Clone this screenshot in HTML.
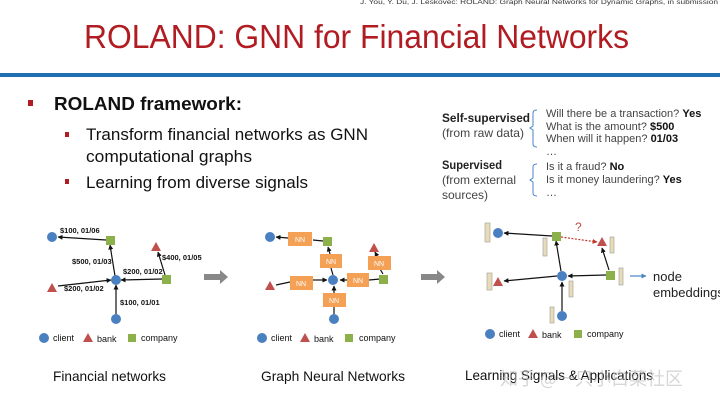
<!DOCTYPE html>
<html><head><meta charset="utf-8"><style>
html,body{margin:0;padding:0;background:#fff;}
svg{display:block;font-family:"Liberation Sans",Arial,sans-serif;}
</style></head><body>
<svg width="720" height="401" viewBox="0 0 720 401" xmlns="http://www.w3.org/2000/svg">
<defs>
<marker id="ah" markerWidth="5" markerHeight="5" refX="4.5" refY="2.5" orient="auto" markerUnits="userSpaceOnUse"><path d="M0,0 L5,2.5 L0,5z" fill="#111"/></marker>
<marker id="ar" markerWidth="5" markerHeight="5" refX="4.5" refY="2.5" orient="auto" markerUnits="userSpaceOnUse"><path d="M0,0 L5,2.5 L0,5z" fill="#c0392b"/></marker>
<marker id="ab" markerWidth="5" markerHeight="5" refX="4.5" refY="2.5" orient="auto" markerUnits="userSpaceOnUse"><path d="M0,0 L5,2.5 L0,5z" fill="#4a86c5"/></marker>
</defs>
<text x="360" y="4" font-size="6" fill="#333" textLength="358" lengthAdjust="spacingAndGlyphs">J. You, Y. Du, J. Leskovec: ROLAND: Graph Neural Networks for Dynamic Graphs, in submission</text>
<text x="84" y="48" font-size="33" fill="#b01c22" textLength="545" lengthAdjust="spacingAndGlyphs">ROLAND: GNN for Financial Networks</text>
<rect x="0" y="73" width="720" height="4" fill="#1f6fb2"/>

<rect x="28" y="100" width="5" height="6" fill="#b01c22"/>
<text x="54" y="110" font-size="18" font-weight="bold" fill="#111" textLength="188" lengthAdjust="spacingAndGlyphs">ROLAND framework:</text>
<rect x="65" y="132" width="4" height="5" fill="#b01c22"/>
<text x="86" y="140" font-size="17" fill="#111" textLength="282" lengthAdjust="spacingAndGlyphs">Transform financial networks as GNN</text>
<text x="86" y="162" font-size="17" fill="#111" textLength="166" lengthAdjust="spacingAndGlyphs">computational graphs</text>
<rect x="65" y="179" width="4" height="5" fill="#b01c22"/>
<text x="86" y="188" font-size="17" fill="#111" textLength="222" lengthAdjust="spacingAndGlyphs">Learning from diverse signals</text>

<!-- right text -->
<g font-size="12" fill="#222">
<text x="442" y="122" font-weight="bold" textLength="88" lengthAdjust="spacingAndGlyphs">Self-supervised</text>
<text x="442" y="137" fill="#444" textLength="82" lengthAdjust="spacingAndGlyphs">(from raw data)</text>
<text x="442" y="169" font-weight="bold" textLength="60" lengthAdjust="spacingAndGlyphs">Supervised</text>
<text x="442" y="184" fill="#444" textLength="74" lengthAdjust="spacingAndGlyphs">(from external</text>
<text x="442" y="199" fill="#444" textLength="46" lengthAdjust="spacingAndGlyphs">sources)</text>
</g>
<path d="M537,110 Q533,110 533,113 L533,126 L530,128 L533,130 L533,144 Q533,147 537,147" fill="none" stroke="#4a86c5" stroke-width="1"/>
<path d="M537,164 Q533,164 533,167 L533,178 L530,180 L533,182 L533,193 Q533,196 537,196" fill="none" stroke="#4a86c5" stroke-width="1"/>
<g font-size="11" fill="#444">
<text x="546" y="117">Will there be a transaction? <tspan font-weight="bold" fill="#111">Yes</tspan></text>
<text x="546" y="130">What is the amount? <tspan font-weight="bold" fill="#111">$500</tspan></text>
<text x="546" y="142">When will it happen? <tspan font-weight="bold" fill="#111">01/03</tspan></text>
<text x="546" y="155">…</text>
<text x="546" y="170">Is it a fraud? <tspan font-weight="bold" fill="#111">No</tspan></text>
<text x="546" y="183">Is it money laundering? <tspan font-weight="bold" fill="#111">Yes</tspan></text>
<text x="546" y="196">…</text>
</g>

<!-- Panel 1 -->
<g stroke="#111" stroke-width="1.2" marker-end="url(#ah)">
<line x1="106" y1="240" x2="58" y2="237"/>
<line x1="115" y1="276" x2="110" y2="245"/>
<line x1="162" y1="279" x2="121" y2="280"/>
<line x1="58" y1="286" x2="111" y2="280"/>
<line x1="116" y1="314" x2="116" y2="285"/>
<line x1="165" y1="275" x2="158" y2="252"/>
</g>
<circle cx="52" cy="237" r="5" fill="#4a80c0"/>
<rect x="106" y="236" width="9" height="9" fill="#8cb04a"/>
<path d="M156,242 L161,251 L151,251z" fill="#c0504d"/>
<circle cx="116" cy="280" r="5" fill="#4a80c0"/>
<path d="M52,283 L57,292 L47,292z" fill="#c0504d"/>
<rect x="162" y="275" width="9" height="9" fill="#8cb04a"/>
<circle cx="116" cy="319" r="5" fill="#4a80c0"/>
<g font-size="7.5" fill="#111" font-weight="bold">
<text x="60" y="233">$100, 01/06</text>
<text x="72" y="264">$500, 01/03</text>
<text x="123" y="274">$200, 01/02</text>
<text x="162" y="260">$400, 01/05</text>
<text x="64" y="291">$200, 01/02</text>
<text x="120" y="305">$100, 01/01</text>
</g>
<circle cx="44" cy="338" r="5" fill="#4a80c0"/><text x="53" y="341" font-size="9" fill="#111">client</text>
<path d="M88,333 L93,342 L83,342z" fill="#c0504d"/><text x="97" y="342" font-size="9" fill="#111">bank</text>
<rect x="128" y="334" width="8" height="8" fill="#8cb04a"/><text x="141" y="341" font-size="9" fill="#111">company</text>
<text x="53" y="381" font-size="14" fill="#111" textLength="113" lengthAdjust="spacingAndGlyphs">Financial networks</text>
<path d="M204,274 L220,274 L220,270 L228,277 L220,284 L220,280 L204,280z" fill="#888"/>

<!-- Panel 2 -->
<g stroke="#111" stroke-width="1.2">
<line x1="288" y1="238" x2="276" y2="237" marker-end="url(#ah)"/>
<line x1="323" y1="241" x2="313" y2="240"/>
<line x1="333" y1="275" x2="331" y2="268"/>
<line x1="330" y1="254" x2="328" y2="247" marker-end="url(#ah)"/>
<line x1="347" y1="280" x2="340" y2="280" marker-end="url(#ah)"/>
<line x1="380" y1="279" x2="369" y2="280"/>
<line x1="312" y1="280" x2="327" y2="280" marker-end="url(#ah)"/>
<line x1="290" y1="282" x2="276" y2="285"/>
<line x1="334" y1="314" x2="334" y2="307"/>
<line x1="334" y1="293" x2="334" y2="286" marker-end="url(#ah)"/>
<line x1="383" y1="274" x2="380" y2="269"/>
<line x1="377" y1="256" x2="375" y2="252" marker-end="url(#ah)"/>
</g>
<g fill="#f4a055">
<rect x="288" y="232" width="24" height="14"/>
<rect x="320" y="254" width="22" height="14"/>
<rect x="290" y="276" width="23" height="14"/>
<rect x="347" y="273" width="22" height="14"/>
<rect x="368" y="256" width="23" height="14"/>
<rect x="323" y="293" width="23" height="14"/>
</g>
<g font-size="7" fill="#fff" text-anchor="middle">
<text x="300" y="242">NN</text><text x="331" y="264">NN</text><text x="301" y="286">NN</text>
<text x="358" y="283">NN</text><text x="379" y="266">NN</text><text x="334" y="303">NN</text>
</g>
<circle cx="270" cy="237" r="5" fill="#4a80c0"/>
<rect x="323" y="237" width="9" height="9" fill="#8cb04a"/>
<path d="M270,281 L275,290 L265,290z" fill="#c0504d"/>
<circle cx="333" cy="280" r="5" fill="#4a80c0"/>
<rect x="379" y="275" width="9" height="9" fill="#8cb04a"/>
<path d="M374,243 L379,252 L369,252z" fill="#c0504d"/>
<circle cx="334" cy="319" r="5" fill="#4a80c0"/>
<circle cx="262" cy="338" r="5" fill="#4a80c0"/><text x="271" y="341" font-size="9" fill="#111">client</text>
<path d="M305,333 L310,342 L300,342z" fill="#c0504d"/><text x="314" y="342" font-size="9" fill="#111">bank</text>
<rect x="345" y="334" width="8" height="8" fill="#8cb04a"/><text x="359" y="341" font-size="9" fill="#111">company</text>
<text x="261" y="381" font-size="14" fill="#111" textLength="144" lengthAdjust="spacingAndGlyphs">Graph Neural Networks</text>
<path d="M421,274 L437,274 L437,270 L445,277 L437,284 L437,280 L421,280z" fill="#888"/>

<!-- Panel 3 -->
<g stroke="#111" stroke-width="1.2" marker-end="url(#ah)">
<line x1="552" y1="236" x2="504" y2="233"/>
<line x1="561" y1="271" x2="556" y2="241"/>
<line x1="606" y1="275" x2="568" y2="276"/>
<line x1="557" y1="276" x2="504" y2="281"/>
<line x1="562" y1="311" x2="562" y2="282"/>
<line x1="609" y1="270" x2="602" y2="248"/>
</g>
<line x1="561" y1="237" x2="597" y2="242" stroke="#c0392b" stroke-width="1.2" stroke-dasharray="2,1.5" marker-end="url(#ar)"/>
<text x="575" y="231" font-size="12" fill="#c0504d">?</text>
<g fill="#e8dcb8" stroke="#999" stroke-width="0.6">
<rect x="485" y="223" width="5" height="19"/>
<rect x="543" y="238" width="4" height="18"/>
<rect x="610" y="237" width="4" height="16"/>
<rect x="487" y="273" width="5" height="17"/>
<rect x="569" y="281" width="4" height="16"/>
<rect x="619" y="268" width="4" height="17"/>
<rect x="550" y="307" width="4" height="16"/>
</g>
<circle cx="498" cy="233" r="5" fill="#4a80c0"/>
<rect x="552" y="232" width="9" height="9" fill="#8cb04a"/>
<path d="M602,237 L607,246 L597,246z" fill="#c0504d"/>
<path d="M498,277 L503,286 L493,286z" fill="#c0504d"/>
<circle cx="562" cy="276" r="5" fill="#4a80c0"/>
<rect x="606" y="271" width="9" height="9" fill="#8cb04a"/>
<circle cx="562" cy="316" r="5" fill="#4a80c0"/>
<line x1="630" y1="276" x2="646" y2="276" stroke="#4a86c5" stroke-width="1.2" marker-end="url(#ab)"/>
<text x="653" y="281" font-size="13" fill="#222">node</text>
<text x="653" y="297" font-size="13" fill="#222">embeddings</text>
<circle cx="490" cy="334" r="5" fill="#4a80c0"/><text x="499" y="337" font-size="9" fill="#111">client</text>
<path d="M533,329 L538,338 L528,338z" fill="#c0504d"/><text x="542" y="338" font-size="9" fill="#111">bank</text>
<rect x="574" y="330" width="8" height="8" fill="#8cb04a"/><text x="587" y="337" font-size="9" fill="#111">company</text>
<text x="465" y="380" font-size="14" fill="#111" textLength="188" lengthAdjust="spacingAndGlyphs">Learning Signals &amp; Applications</text>
<text x="500" y="385" font-size="18" fill="#bbb" opacity="0.6" font-family="Noto Sans CJK SC, sans-serif">知乎 @一只小白菜社区</text>
</svg>
</body></html>
